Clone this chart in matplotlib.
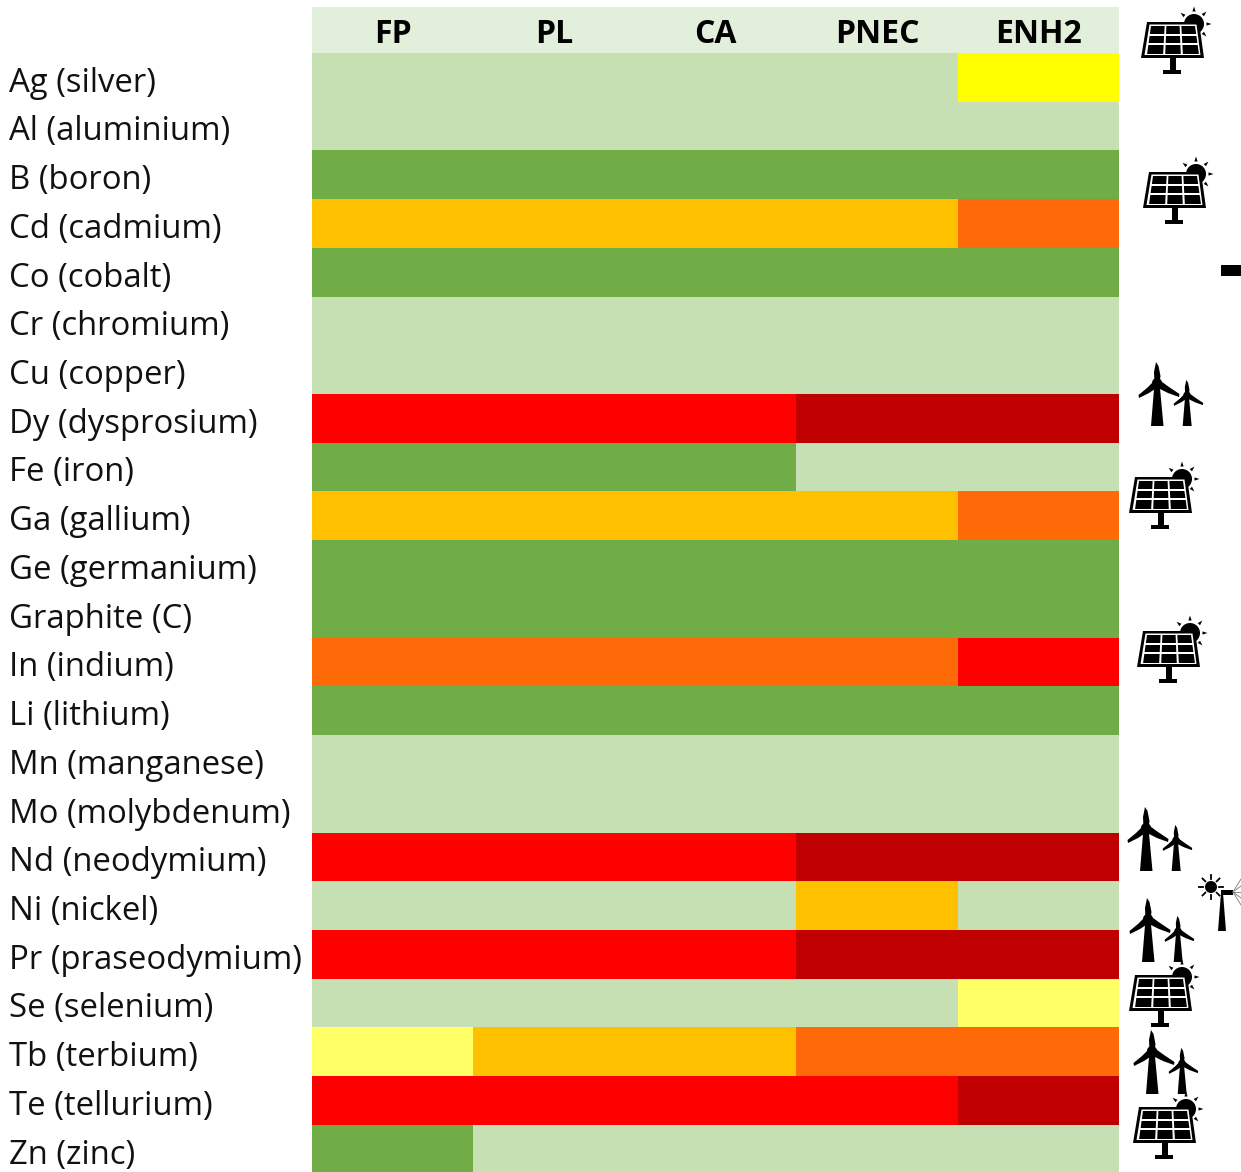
# Material criticality table with technology icons
import matplotlib
matplotlib.use('Agg')
import matplotlib.pyplot as plt
import matplotlib.patches as patches
from matplotlib.colors import ListedColormap, BoundaryNorm
import numpy as np

materials = ['Ag (silver)', 'Al (aluminium)', 'B (boron)', 'Cd (cadmium)', 'Co (cobalt)',
             'Cr (chromium)', 'Cu (copper)', 'Dy (dysprosium)', 'Fe (iron)', 'Ga (gallium)',
             'Ge (germanium)', 'Graphite (C)', 'In (indium)', 'Li (lithium)', 'Mn (manganese)',
             'Mo (molybdenum)', 'Nd (neodymium)', 'Ni (nickel)', 'Pr (praseodymium)',
             'Se (selenium)', 'Tb (terbium)', 'Te (tellurium)', 'Zn (zinc)']
scenarios = ['FP', 'PL', 'CA', 'PNEC', 'ENH2']

# 0 very low ... 7 very high
levels = [
    [0, 0, 0, 0, 3],
    [0, 0, 0, 0, 0],
    [1, 1, 1, 1, 1],
    [4, 4, 4, 4, 5],
    [1, 1, 1, 1, 1],
    [0, 0, 0, 0, 0],
    [0, 0, 0, 0, 0],
    [6, 6, 6, 7, 7],
    [1, 1, 1, 0, 0],
    [4, 4, 4, 4, 5],
    [1, 1, 1, 1, 1],
    [1, 1, 1, 1, 1],
    [5, 5, 5, 5, 6],
    [1, 1, 1, 1, 1],
    [0, 0, 0, 0, 0],
    [0, 0, 0, 0, 0],
    [6, 6, 6, 7, 7],
    [0, 0, 0, 4, 0],
    [6, 6, 6, 7, 7],
    [0, 0, 0, 0, 2],
    [2, 4, 4, 5, 5],
    [6, 6, 6, 6, 7],
    [1, 0, 0, 0, 0],
]
level_colors = ['#C6E0B4', '#70AD47', '#FFFF66', '#FFFF00', '#FFC000', '#FF6A08', '#FF0000', '#C00000']

solar_icons = [(1172, 40), (1174, 190), (1160, 495), (1168, 649), (1160, 993), (1164, 1125)]
wind_icons = [(1157, 426), (1146, 871), (1148, 962), (1152, 1094)]

W, H = 1241, 1172
plt.rcParams['font.family'] = ['Open Sans', 'DejaVu Sans']
fig = plt.figure(figsize=(W / 100, H / 100), dpi=100)

# Heatmap axes, header band sits above row 0; last row runs slightly off the canvas
top = 7
row_h = 48.72
bottom = 53 + row_h * len(materials)
ax = fig.add_axes([312 / W, (H - bottom) / H, (1119 - 312) / W, (bottom - top) / H])
ax.pcolormesh(np.arange(6), np.arange(24), np.array(levels),
              cmap=ListedColormap(level_colors),
              norm=BoundaryNorm(np.arange(-0.5, 8.5), 8))
ax.set_xlim(0, 5)
ax.set_ylim(len(materials), -(53 - top) / row_h)
ax.axis('off')
ax.add_patch(patches.Rectangle((0, -(53 - top) / row_h), 5, (53 - top) / row_h,
                               facecolor='#E2EFDA', edgecolor='none'))
for j, s in enumerate(scenarios):
    ax.text(j + 0.5, -0.38, s, ha='center', va='center', fontsize=23, fontweight='bold', color='black')
for i, m in enumerate(materials):
    ax.text(-1.875, i + 0.62, m, ha='left', va='center', fontsize=23.7, color='#111111', clip_on=False)

# Overlay in pixel coords for the icons
ov = fig.add_axes([0, 0, 1, 1], facecolor='none')
ov.set_xlim(0, W); ov.set_ylim(H, 0)
ov.axis('off')


def poly(pts, color='black', z=3):
    ov.add_patch(patches.Polygon(pts, closed=True, facecolor=color, edgecolor='none', zorder=z))


def solar(cx, cy):
    # sun + rays
    sx, sy = cx + 22, cy - 16
    ov.add_patch(patches.Circle((sx, sy), 10, facecolor='black', edgecolor='none', zorder=3))
    for a in [-90, -45, -140, 0, 45]:
        t = np.radians(a)
        n = np.array([-np.sin(t), np.cos(t)]) * 1.6
        d = np.array([np.cos(t), np.sin(t)])
        c = np.array([sx, sy])
        poly([c + d * 12.5 + n, c + d * 12.5 - n, c + d * 17.5])
    # panel: black frame, white gap, 3x3 black cells
    tl, tr, br, bl = (-25, -18), (27, -18), (32, 18), (-31, 18)
    poly([(cx + p[0], cy + p[1]) for p in (tl, tr, br, bl)], z=4)
    poly([(cx - 22.5, cy - 15.5), (cx + 24.5, cy - 15.5), (cx + 28.5, cy + 15), (cx - 27.5, cy + 15)], 'white', z=5)
    rows = [(-14, -6), (-4, 3), (5, 14)]
    cols = [(-1, -0.38), (-0.3, 0.3), (0.38, 1)]
    for y0, y1 in rows:
        for u0, u1 in cols:
            hw0 = 22 + (y0 + 14) * 0.14
            hw1 = 22 + (y1 + 14) * 0.14
            poly([(cx + 1 + u0 * hw0, cy + y0), (cx + 1 + u1 * hw0, cy + y0),
                  (cx + 1 + u1 * hw1, cy + y1), (cx + 1 + u0 * hw1, cy + y1)], z=6)
    # stand
    ov.add_patch(patches.Rectangle((cx - 2.5, cy + 17), 6, 13, facecolor='black', edgecolor='none', zorder=3))
    ov.add_patch(patches.Rectangle((cx - 9, cy + 30), 18, 4, facecolor='black', edgecolor='none', zorder=3))


def turbine(bx, by, s):
    hy = by - 43 * s
    poly([(bx - 6 * s, by), (bx + 6.5 * s, by), (bx + 2.5 * s, hy), (bx - 2.5 * s, hy)])
    ov.add_patch(patches.Circle((bx, hy), 5 * s, facecolor='black', edgecolor='none', zorder=3))
    # three blades, bulged near the hub
    poly([(bx - 2.5 * s, hy), (bx - 3 * s, by - 54 * s), (bx - 1 * s, by - 64 * s),
          (bx + 1.5 * s, by - 60 * s), (bx + 3.5 * s, by - 50 * s), (bx + 2.5 * s, hy)])
    poly([(bx - 1 * s, hy - 4 * s), (bx - 10 * s, by - 38 * s), (bx - 18.5 * s, by - 31 * s),
          (bx - 18 * s, by - 28 * s), (bx - 8 * s, by - 33 * s), (bx + 1 * s, hy + 4 * s)])
    poly([(bx + 1 * s, hy - 4 * s), (bx + 12 * s, by - 39 * s), (bx + 22.5 * s, by - 32 * s),
          (bx + 22 * s, by - 29 * s), (bx + 11 * s, by - 33 * s), (bx - 1 * s, hy + 4 * s)])


for cx, cy in solar_icons:
    solar(cx, cy)
for bx, by in wind_icons:
    turbine(bx, by, 1.0)
    turbine(bx + 30, by, 0.72)

# small dash at right edge
ov.add_patch(patches.Rectangle((1221, 265), 20, 11, facecolor='black', edgecolor='none', zorder=3))

# small sun + turbine next to Ni row
ov.add_patch(patches.Circle((1211, 887), 6, facecolor='black', zorder=3))
for a in range(0, 360, 45):
    t = np.radians(a)
    ov.plot([1211 + 8 * np.cos(t), 1211 + 12 * np.cos(t)], [887 + 8 * np.sin(t), 887 + 12 * np.sin(t)],
            color='black', lw=1.3, zorder=3)
poly([(1218, 931), (1226, 931), (1223, 893), (1221, 893)])
ov.add_patch(patches.Rectangle((1221, 890), 12, 5, facecolor='black', edgecolor='none', zorder=3))
for dy in [-13, -6, 0, 6, 13]:
    ov.plot([1233, 1241], [892, 892 + dy], color='#777777', lw=0.6, zorder=3)
ov.set_xlim(0, W); ov.set_ylim(H, 0)

fig.savefig('out.png', dpi=100)
plt.close()
